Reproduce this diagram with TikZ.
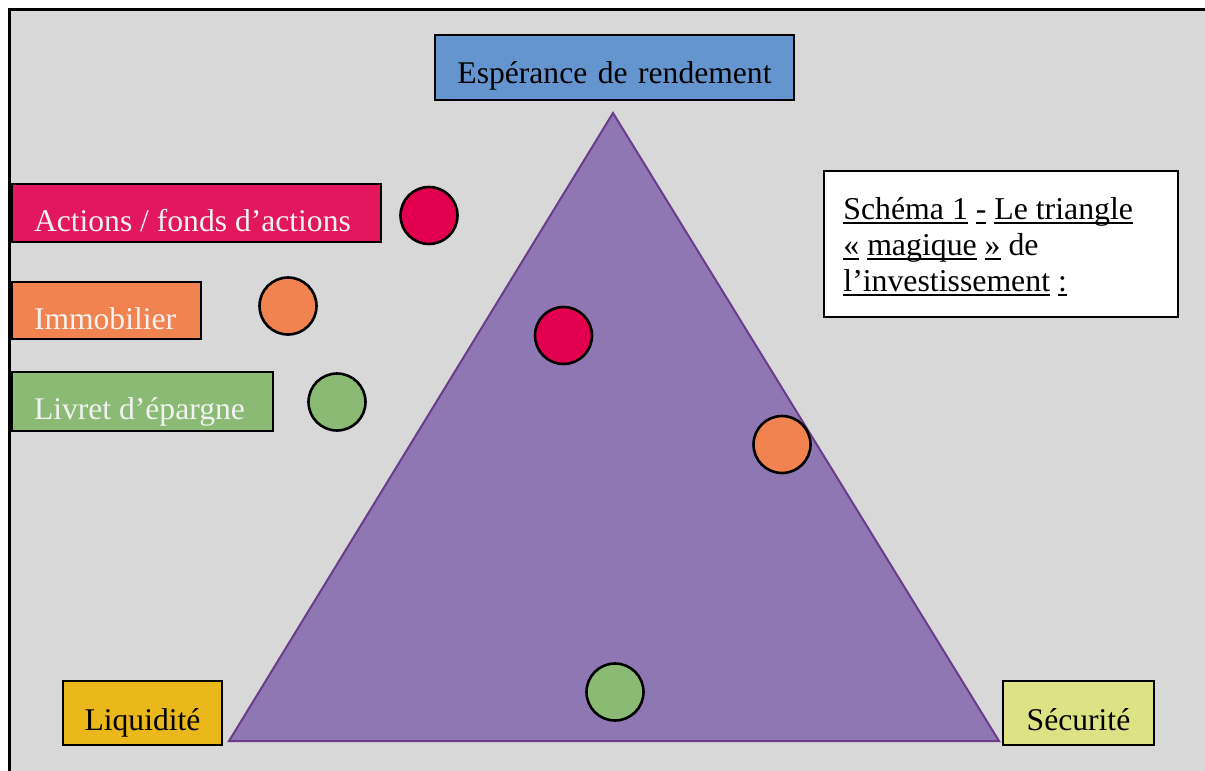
\documentclass[tikz,border=0pt]{standalone}
\usepackage{fontspec}
\setmainfont{Liberation Serif}
\definecolor{bggray}{HTML}{D8D8D8}
\definecolor{topblue}{HTML}{6595CF}
\definecolor{trifill}{HTML}{8F77B3}
\definecolor{tridraw}{HTML}{6A3C8A}
\definecolor{liqyellow}{HTML}{EAB81A}
\definecolor{seclime}{HTML}{DDE384}
\definecolor{pinkbox}{HTML}{E3175E}
\definecolor{pinkdot}{HTML}{E2004E}
\definecolor{orangec}{HTML}{F0834F}
\definecolor{greenc}{HTML}{8BBA74}
\definecolor{textw}{HTML}{F2F2F2}
\newcommand{\ulw}[1]{\setbox0\hbox{#1}\rlap{\rule[-2.3pt]{\wd0}{0.9pt}}\box0\relax}
\tikzset{
  lbox/.style={draw=black, line width=1pt, inner ysep=0pt, anchor=north west,
    font=\fontsize{15.8}{19}\selectfont},
  leftbox/.style={lbox, inner xsep=11pt, text=textw},
  cbox/.style={lbox, inner xsep=0pt, align=center, text=black},
  dot/.style={circle, draw=black, line width=1.3pt, minimum size=28.5pt, inner sep=0pt},
  schtext/.style={anchor=base west, inner sep=0pt, font=\fontsize{15.9}{19}\selectfont}
}
\begin{document}
\begin{tikzpicture}[x=0.5pt,y=-0.5pt]
\useasboundingbox (0,0) rectangle (1205,771);
% background frame
\fill[bggray] (9.5,9.5) rectangle (1205,771);
\draw[line width=1.5pt] (9.5,771) -- (9.5,9.5) -- (1205,9.5);
% triangle
\coordinate (apex) at (613,113);
\coordinate (bl) at (229,741);
\coordinate (br) at (999,741);
\draw[fill=trifill, draw=tridraw, line width=1pt, line join=miter] (apex) -- (bl) -- (br) -- cycle;
% corner labels
\node[cbox, fill=topblue, minimum width=179.5pt, text width=179.5pt, text height=24.35pt, text depth=8.15pt] (esp) at (434,34) {Espérance de rendement};
\node[cbox, fill=liqyellow, minimum width=79.5pt, text width=79.5pt, text height=24.5pt, text depth=7.5pt] (liq) at (62,680) {Liquidité};
\node[cbox, fill=seclime, minimum width=75.5pt, text width=75.5pt, text height=24.5pt, text depth=7.5pt] (sec) at (1002,680) {Sécurité};
% legend boxes
\node[leftbox, fill=pinkbox, text height=23.5pt, text depth=5.5pt] (act) at (11,183) {\makebox[162.5pt][l]{Actions / fonds d’actions}};
\node[leftbox, fill=orangec, text height=23.5pt, text depth=5pt] (imm) at (11,281) {\makebox[72.5pt][l]{Immobilier}};
\node[leftbox, fill=greenc, text height=23.5pt, text depth=6pt] (liv) at (11,371) {\makebox[108.5pt][l]{Livret d’épargne}};
% legend dots
\node[dot, fill=pinkdot] (actdot) at (429,215.5) {};
\node[dot, fill=orangec] (immdot) at (288,306) {};
\node[dot, fill=greenc] (livdot) at (337,402) {};
% dots in triangle
\node[dot, fill=pinkdot] (actin) at (563.5,335.5) {};
\node[dot, fill=orangec] (immin) at (782,444.5) {};
\node[dot, fill=greenc] (livin) at (615,692) {};
% title box
\node[draw=black, line width=1pt, fill=white, anchor=north west, minimum width=177pt, minimum height=73pt, inner sep=0pt] (schema) at (823,170) {};
\node[schtext] (sch1) at (843,219.5) {\ulw{Schéma 1} \ulw{-} \ulw{Le triangle}};
\node[schtext] (sch2) at (843,255.5) {\ulw{«} \ulw{magique} \ulw{»} de};
\node[schtext] (sch3) at (843,291.5) {\ulw{l’investissement} \ulw{:}};
\end{tikzpicture}
\end{document}
